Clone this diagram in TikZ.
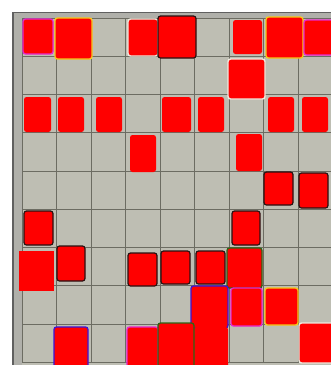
\documentclass[tikz,border=0pt]{standalone}
\definecolor{felt}{RGB}{190,190,179}
\definecolor{rim}{RGB}{176,176,170}
\definecolor{gridc}{RGB}{108,108,98}
\definecolor{tred}{RGB}{255,0,0}
\definecolor{rimpink}{RGB}{232,40,205}
\definecolor{rimgold}{RGB}{245,200,25}
\definecolor{rimblue}{RGB}{60,20,215}
\definecolor{rimgreen}{RGB}{45,100,20}
\definecolor{rimdark}{RGB}{40,18,18}
\definecolor{rimwhite}{RGB}{238,234,222}
\tikzset{
  tile/.style={fill=tred,rounded corners=2.5pt},
  flat/.style={fill=tred},
  tpink/.style={tile,draw=rimpink,line width=1.3pt},
  tgold/.style={tile,draw=rimgold,line width=1.3pt},
  tblue/.style={tile,draw=rimblue,line width=1.3pt},
  tgreen/.style={tile,draw=rimgreen,line width=1.3pt},
  tdark/.style={tile,draw=rimdark,line width=1.2pt},
  twhite/.style={tile,draw=rimwhite,line width=1.4pt},
  gline/.style={draw=gridc,line width=0.7pt}
}
\begin{document}
\begin{tikzpicture}[x=1pt,y=-1pt]
  \useasboundingbox (0,0) rectangle (331,365);
  \fill[white] (0,0) rectangle (331,365);
  % board and frame
  \fill[rim] (12,12) rectangle (340,370);
  \draw[draw=gray!75!black,line width=1.2pt] (13,370)--(13,12.5)--(340,12.5);
  \fill[felt] (22,18) rectangle (340,370);
  \foreach \i in {0,...,9} \draw[gline] (22+34.5*\i,18)--(22+34.5*\i,362.25);
  \foreach \j in {0,...,9} \draw[gline] (22,18+38.25*\j)--(340,18+38.25*\j);
  % row 1
  \draw[tpink] (23,19) rectangle (53,54); \draw[tgold] (55,18) rectangle (92,59);
  \draw[twhite] (128,19) rectangle (158,56); \draw[tdark] (158,16) rectangle (196,58);
  \fill[tile] (233,20) rectangle (262,54); \draw[tgold] (266,17) rectangle (303,58);
  \draw[tpink] (304,20) rectangle (336,55);
  % row 2
  \draw[twhite] (228,59) rectangle (265,99);
  % row 3
  \foreach \xa/\xb in {24/51,58/84,96/122,162/191,198/224,268/294,302/328}
    \fill[tile] (\xa,97) rectangle (\xb,132);
  % row 4
  \fill[tile] (130,135) rectangle (156,172); \fill[tile] (236,134) rectangle (262,171);
  % rows 5 and 6
  \draw[tdark] (264,172) rectangle (293,205); \draw[tdark] (299,173) rectangle (328,208);
  \draw[tdark] (24,211) rectangle (53,245); \draw[tdark] (232,211) rectangle (260,245);
  % row 7
  \fill[flat] (19,251) rectangle (54,291); \draw[tdark] (57,246) rectangle (85,281);
  \draw[tdark] (128,253) rectangle (157,286); \draw[tdark] (161,251) rectangle (190,284);
  \draw[tdark] (196,251) rectangle (225,284); \draw[tgreen] (227,248) rectangle (262,288);
  % row 8
  \draw[tblue] (191,286) rectangle (228,328); \draw[tpink] (231,288) rectangle (262,326);
  \draw[tgold] (265,288) rectangle (298,325);
  % row 9
  \draw[tblue] (54,327) rectangle (88,368); \draw[tpink] (127,327) rectangle (158,368);
  \fill[tile] (194,327) rectangle (228,368); \draw[tgreen] (158,323) rectangle (194,368);
  \draw[twhite] (299,323) rectangle (336,363);
\end{tikzpicture}
\end{document}
